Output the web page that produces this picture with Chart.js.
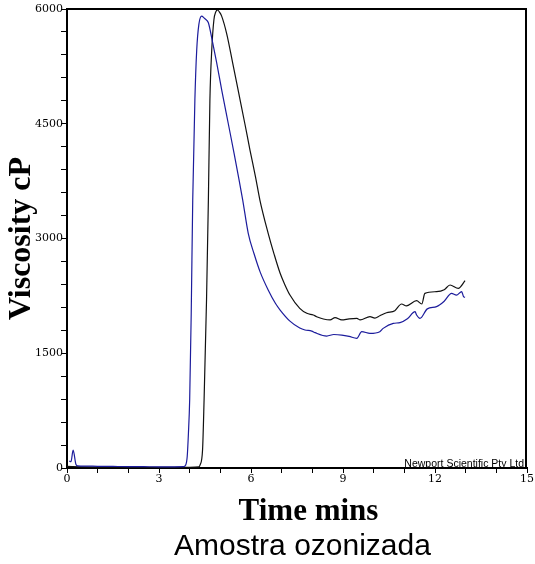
<!DOCTYPE html>
<html>
<head>
<meta charset="utf-8">
<script src="https://cdn.jsdelivr.net/npm/chart.js@4/dist/chart.umd.min.js"></script>
<style>
  html, body { margin: 0; padding: 0; background: #fff; }
  #c { display: block; }
</style>
</head>
<body>
<canvas id="c" width="535" height="564"></canvas>
<script>
// ---- data ----
const timeBlue = [0.07, 0.13, 0.2, 0.29, 0.35, 0.6, 1.0, 1.5, 2.0, 2.5, 3.0, 3.5, 3.8, 3.87, 3.92, 3.96, 4.0, 4.05, 4.1, 4.17, 4.23, 4.3, 4.39, 4.48, 4.55, 4.61, 4.75, 4.88, 5.05, 5.26, 5.45, 5.6, 5.73, 5.91, 6.1, 6.3, 6.56, 6.8, 6.95, 7.27, 7.59, 7.76, 7.98, 8.09, 8.47, 8.7, 8.96, 9.2, 9.45, 9.61, 9.88, 10.2, 10.31, 10.64, 10.86, 11.1, 11.35, 11.4, 11.51, 11.75, 12.05, 12.3, 12.54, 12.7, 12.87, 12.93, 12.98];
const viscBlue = [92, 82, 235, 50, 28, 25, 22, 20, 18, 17, 16, 16, 17, 40, 150, 457, 889, 2000, 3503, 4810, 5464, 5800, 5908, 5880, 5856, 5820, 5560, 5300, 4930, 4500, 4110, 3790, 3503, 3068, 2800, 2560, 2327, 2150, 2065, 1920, 1830, 1804, 1790, 1769, 1725, 1745, 1738, 1720, 1695, 1782, 1760, 1782, 1825, 1891, 1900, 1950, 2043, 2000, 1956, 2080, 2109, 2180, 2283, 2260, 2305, 2240, 2231];

const timeBlack = [0, 0.5, 1, 2, 3, 4, 4.3, 4.34, 4.42, 4.47, 4.55, 4.61, 4.66, 4.72, 4.79, 4.85, 4.91, 4.97, 5.04, 5.21, 5.4, 5.6, 5.8, 5.97, 6.15, 6.29, 6.56, 6.75, 6.95, 7.1, 7.27, 7.59, 7.82, 8.03, 8.14, 8.36, 8.58, 8.74, 8.96, 9.2, 9.45, 9.56, 9.88, 10.04, 10.2, 10.42, 10.69, 10.91, 11.07, 11.4, 11.57, 11.67, 12.05, 12.3, 12.49, 12.76, 12.98];
const viscBlack = [20, 15, 12, 10, 10, 10, 15, 40, 235, 889, 2200, 3503, 4810, 5464, 5856, 5960, 5987, 5960, 5910, 5673, 5300, 4900, 4500, 4150, 3800, 3503, 3068, 2800, 2545, 2400, 2261, 2087, 2022, 2000, 1978, 1948, 1935, 1965, 1935, 1950, 1957, 1935, 1978, 1960, 1990, 2030, 2057, 2144, 2120, 2187, 2144, 2283, 2305, 2330, 2392, 2348, 2448];

const xTickLabels = [0, 3, 6, 9, 12, 15];
const yTickLabels = [0, 1500, 3000, 4500, 6000];

const xTitle = 'Time mins';
const yTitle = 'Viscosity cP';
const caption = 'Amostra ozonizada';
const credit = 'Newport Scientific Pty Ltd';

function pts(xs, ys) { return xs.map((x, i) => ({ x: x, y: ys[i] })); }

const extraText = {
  id: 'extraText',
  afterDraw(chart) {
    const ctx = chart.ctx;
    const a = chart.chartArea;
    ctx.save();
    // frame: top and right
    ctx.strokeStyle = '#000';
    ctx.lineWidth = 2;
    ctx.beginPath();
    ctx.moveTo(a.left, a.top);
    ctx.lineTo(a.right - 1, a.top);
    ctx.lineTo(a.right - 1, a.bottom);
    ctx.stroke();
    // credit
    ctx.fillStyle = '#000';
    ctx.font = '10.5px "Liberation Sans", Arial, sans-serif';
    ctx.textAlign = 'right';
    ctx.textBaseline = 'alphabetic';
    ctx.fillText(credit, a.right - 3, a.bottom - 1);
    // x title
    ctx.font = 'bold 31px "Liberation Serif", "Times New Roman", serif';
    ctx.textAlign = 'center';
    ctx.fillText(xTitle, 308.5, 520);
    // caption
    ctx.font = '30px "Liberation Sans", Arial, sans-serif';
    ctx.fillText(caption, 302.5, 555);
    ctx.restore();
  }
};

new Chart(document.getElementById('c'), {
  type: 'line',
  data: {
    datasets: [
      { data: pts(timeBlue, viscBlue), borderColor: '#1c1c9c', borderWidth: 1.2, pointRadius: 0, cubicInterpolationMode: 'monotone', fill: false },
      { data: pts(timeBlack, viscBlack), borderColor: '#111111', borderWidth: 1.2, pointRadius: 0, cubicInterpolationMode: 'monotone', fill: false }
    ]
  },
  options: {
    responsive: false,
    animation: false,
    devicePixelRatio: 1,
    layout: { padding: { top: 9, right: 8, left: 0, bottom: 0 } },
    plugins: { legend: { display: false }, tooltip: { enabled: false }, title: { display: false } },
    scales: {
      x: {
        type: 'linear',
        min: 0, max: 15,
        afterFit(s) { s.height = 96; },
        afterBuildTicks(s) { s.ticks = []; for (let v = 0; v <= 15; v++) s.ticks.push({ value: v }); },
        border: { display: true, color: '#000', width: 2 },
        grid: { drawOnChartArea: false, drawTicks: true, tickLength: 5, color: '#000', lineWidth: 1 },
        ticks: {
          autoSkip: false, maxRotation: 0, padding: 0, color: '#000',
          font: { family: '"DejaVu Serif", serif', size: 11 },
          callback: (v) => xTickLabels.includes(v) ? String(v) : ''
        }
      },
      y: {
        type: 'linear',
        min: 0, max: 6000,
        afterFit(s) { s.width = 67; },
        afterBuildTicks(s) { s.ticks = []; for (let v = 0; v <= 6000; v += 300) s.ticks.push({ value: v }); },
        border: { display: true, color: '#000', width: 2 },
        grid: { drawOnChartArea: false, drawTicks: true, tickLength: 6, color: '#000', lineWidth: 1 },
        title: {
          display: true, text: yTitle, color: '#000',
          font: { family: '"Liberation Serif", "Times New Roman", serif', size: 32, weight: 'bold' },
          padding: { top: 3, bottom: 0 }
        },
        ticks: {
          autoSkip: false, padding: -2, color: '#000',
          font: { family: '"DejaVu Serif", serif', size: 11 },
          callback: (v) => yTickLabels.includes(v) ? String(v) : ''
        }
      }
    }
  },
  plugins: [extraText]
});
</script>
</body>
</html>
